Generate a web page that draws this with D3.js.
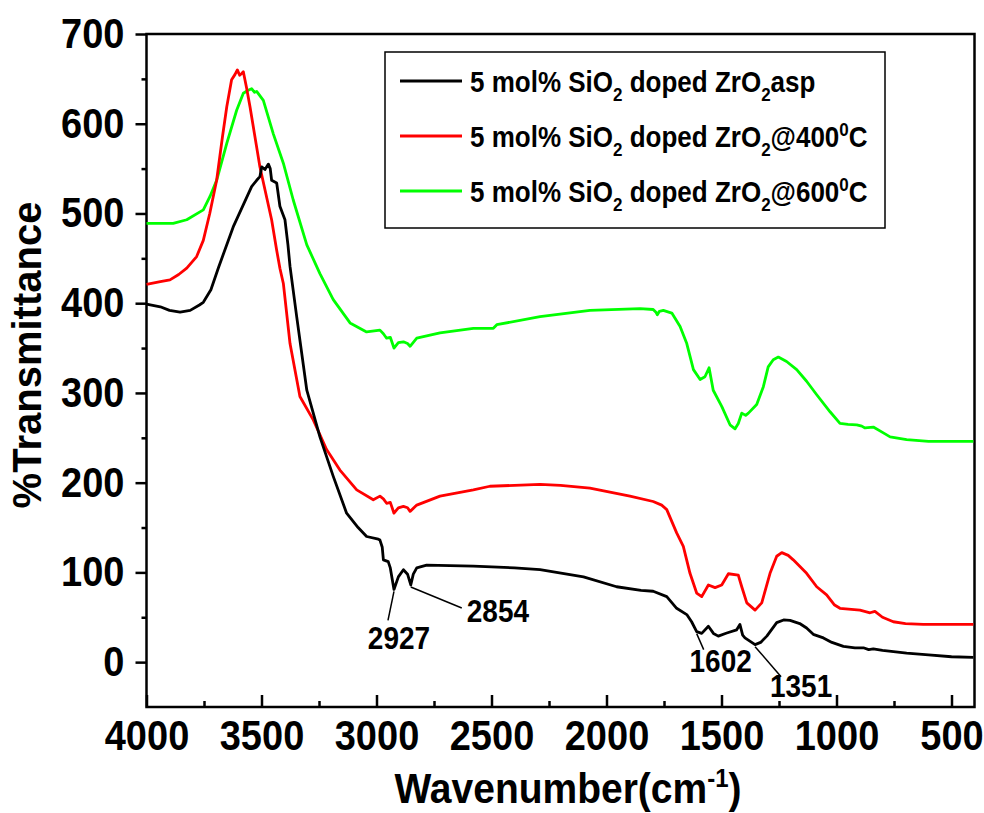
<!DOCTYPE html>
<html>
<head>
<meta charset="utf-8">
<script src="https://cdn.jsdelivr.net/npm/d3@7"></script>
<style>
  html, body { margin: 0; padding: 0; background: #fff; }
  svg text { font-family: "Liberation Sans", Arial, Helvetica, sans-serif; font-weight: bold; fill: #000; }
</style>
</head>
<body>
<svg id="chart" width="984" height="813"></svg>
<script>
// FT-IR spectra of 5 mol% SiO2 doped ZrO2 (as prepared, 400 °C, 600 °C)
const aspWavenumber = [4000, 3940, 3900, 3854, 3810, 3770, 3753, 3720, 3688, 3623, 3543, 3521, 3507, 3499, 3485, 3470, 3462, 3456, 3434, 3420, 3398, 3385, 3376, 3347, 3303, 3246, 3188, 3130, 3080, 3043, 2992, 2985, 2975, 2970, 2949, 2940, 2924, 2905, 2883, 2865, 2851, 2840, 2825, 2782, 2579, 2400, 2289, 2100, 1956, 1850, 1797, 1738, 1695, 1651, 1630, 1608, 1586, 1557, 1535, 1514, 1477, 1434, 1420, 1408, 1398, 1354, 1330, 1303, 1260, 1230, 1202, 1160, 1130, 1101, 1057, 1020, 970, 920, 883, 860, 840, 800, 695, 600, 500, 405];
const aspValues = [399, 396, 392, 390, 392, 398, 401, 415, 439, 485, 530, 537, 541, 552, 549, 555, 550, 537, 534, 508, 493, 465, 441, 385, 303, 251, 207, 166, 150, 140, 137, 136, 128, 114, 112, 105, 81, 95, 103, 98, 86, 98, 105, 108, 107, 105, 103, 95, 84, 80, 79, 73, 60, 53, 45, 34, 32, 40, 32, 29, 32.5, 36, 42, 30, 27, 19.5, 22, 29, 44, 47, 46.5, 43, 38, 31, 27, 22, 17.6, 16, 16, 14, 14.7, 13, 10, 8, 6, 5.3];

const t400Wavenumber = [4000, 3940, 3898, 3860, 3825, 3782, 3753, 3725, 3695, 3670, 3651, 3630, 3615, 3605, 3595, 3586, 3579, 3565, 3550, 3507, 3456, 3434, 3420, 3405, 3376, 3333, 3275, 3217, 3159, 3086, 3014, 2985, 2970, 2956, 2940, 2924, 2905, 2883, 2865, 2854, 2825, 2724, 2579, 2507, 2400, 2289, 2200, 2072, 1898, 1797, 1760, 1738, 1695, 1666, 1637, 1608, 1586, 1557, 1528, 1499, 1470, 1427, 1412, 1390, 1354, 1325, 1289, 1260, 1238, 1210, 1188, 1130, 1086, 1043, 1010, 985, 898, 854, 833, 800, 753, 700, 623, 405];
const t400Values = [421, 424, 426, 432, 439, 452, 470, 500, 537, 585, 619, 649, 655, 660, 654, 656, 658, 640, 619, 552, 493, 459, 439, 422, 355, 296, 270, 237, 214, 192, 181, 185, 182, 177, 178, 166, 172, 173.5, 172, 168, 175, 185, 192, 196, 197, 198, 197, 194, 185, 179, 175, 170, 144, 129, 99, 77, 73, 86, 83, 86, 98.5, 97, 84, 66, 58, 66, 99, 118, 122, 119, 114, 99, 84, 75, 64, 60, 58, 55, 56.6, 50, 45, 43, 42, 42];

const t600Wavenumber = [4000, 3884, 3825, 3753, 3724, 3695, 3651, 3608, 3579, 3560, 3543, 3530, 3521, 3492, 3449, 3405, 3362, 3303, 3246, 3188, 3115, 3043, 2985, 2970, 2956, 2940, 2924, 2905, 2883, 2865, 2854, 2825, 2724, 2579, 2492, 2477, 2289, 2072, 1854, 1797, 1785, 1779, 1770, 1753, 1716, 1680, 1651, 1622, 1593, 1572, 1554, 1536, 1499, 1463, 1441, 1427, 1412, 1395, 1383, 1347, 1318, 1297, 1275, 1253, 1217, 1173, 1130, 1086, 1028, 985, 950, 912, 890, 876, 840, 800, 767, 695, 600, 405];
const t600Values = [489, 489, 493, 504, 519, 537, 578, 615, 634, 637, 639, 635, 636, 626, 589, 556, 515, 465, 433, 404, 378, 368, 370, 366, 361, 362, 350, 356, 357, 355, 352, 361, 367, 372, 372, 376, 385, 392, 394, 393, 390, 387, 391, 392, 389, 374, 355, 326, 315, 318, 328, 303, 285, 264.5, 260, 266, 277.5, 275, 277.5, 287, 307, 329, 337, 340, 335, 326, 313, 298, 279, 266, 265, 264.5, 263, 261, 262, 256, 251, 248, 246, 246];

const seriesColors = ["#000000", "#ff0000", "#00ff00"];
const xMajorTicks = [4000, 3500, 3000, 2500, 2000, 1500, 1000, 500];
const xMinorTicks = [3750, 3250, 2750, 2250, 1750, 1250, 750];
const yMajorTicks = [0, 100, 200, 300, 400, 500, 600, 700];
const yMinorTicks = [50, 150, 250, 350, 450, 550, 650];

// Peak labels on the as-prepared curve
const peakLabels = ["2927", "2854", "1602", "1351"];
const peakWavenumbers = [2924, 2851, 1608, 1354];
const peakValues = [81, 86, 34, 19.5];

const svg = d3.select("#chart");
const plotLeft = 146.5, plotRight = 974.5, plotTop = 34, plotBottom = 707;
const stretch = 1.1; // tall, narrow lettering

const x = d3.scaleLinear().domain([4000, 400]).range([plotLeft, plotRight]);
const y = d3.scaleLinear().domain([-50, 700]).range([plotBottom, plotTop]);

// Axes
function styleAxis(g) {
  g.select(".domain").remove();
  g.selectAll(".tick line").attr("stroke", "#000").attr("stroke-width", 2.5);
  g.selectAll(".tick text")
    .style("font-size", "38px").attr("fill", "#000")
    .attr("transform", `scale(1,${stretch})`);
}

svg.append("g")
  .attr("transform", `translate(0,${plotBottom})`)
  .call(d3.axisBottom(x).tickValues(xMajorTicks).tickSize(-12).tickPadding(12).tickFormat(d3.format("d")))
  .call(styleAxis);

svg.append("g")
  .attr("transform", `translate(0,${plotBottom})`)
  .call(d3.axisBottom(x).tickValues(xMinorTicks).tickSize(-6).tickFormat(""))
  .call(styleAxis);

svg.append("g")
  .attr("transform", `translate(${plotLeft},0)`)
  .call(d3.axisLeft(y).tickValues(yMajorTicks).tickSize(11).tickPadding(11).tickFormat(d3.format("d")))
  .call(styleAxis);

svg.append("g")
  .attr("transform", `translate(${plotLeft},0)`)
  .call(d3.axisLeft(y).tickValues(yMinorTicks).tickSize(5).tickFormat(""))
  .call(styleAxis);

// Plot frame
svg.append("rect")
  .attr("x", plotLeft).attr("y", plotTop)
  .attr("width", plotRight - plotLeft).attr("height", plotBottom - plotTop)
  .attr("fill", "none").attr("stroke", "#000").attr("stroke-width", 2.5);

// Spectra
const line = d3.line().x(d => x(d[0])).y(d => y(d[1]));
const series = [
  d3.zip(aspWavenumber, aspValues),
  d3.zip(t400Wavenumber, t400Values),
  d3.zip(t600Wavenumber, t600Values)
];
// green first, black on top
[2, 1, 0].forEach(i => {
  svg.append("path")
    .datum(series[i])
    .attr("d", line)
    .attr("fill", "none")
    .attr("stroke", seriesColors[i])
    .attr("stroke-width", 2.8)
    .attr("stroke-linejoin", "round");
});

// Peak annotations with leader lines: [leader dx, leader dy, text dx, text dy]
const labelOffsets = [[-6, 31, 5, 60], [51, 23, 56, 37], [7, 18, 24, 40], [26, 32, 46, 52]];
peakLabels.forEach((lab, i) => {
  const px = x(peakWavenumbers[i]), py = y(peakValues[i]);
  const o = labelOffsets[i];
  svg.append("line")
    .attr("x1", px).attr("y1", py + 2)
    .attr("x2", px + o[0]).attr("y2", py + o[1])
    .attr("stroke", "#000").attr("stroke-width", 1.5);
  svg.append("g")
    .attr("transform", `translate(${px + o[2]},${py + o[3]}) scale(1,${stretch})`)
    .append("text")
    .attr("text-anchor", i === 1 ? "start" : "middle")
    .style("font-size", "28px")
    .text(lab);
});

// Axis titles
svg.append("g")
  .attr("transform", `translate(568,803) scale(1,${stretch})`)
  .append("text")
  .attr("text-anchor", "middle")
  .style("font-size", "39px")
  .call(t => {
    t.append("tspan").text("Wavenumber(cm");
    t.append("tspan").attr("dy", -15).style("font-size", "24px").text("-1");
    t.append("tspan").attr("dy", 15).text(")");
  });

svg.append("text")
  .attr("transform", "translate(41,355) rotate(-90)")
  .attr("text-anchor", "middle")
  .style("font-size", "40px")
  .text("%Transmittance");

// Legend
const legendNames = [
  [["5 mol% SiO", 0], ["2", 1], [" doped ZrO", 0], ["2", 1], ["asp", 0]],
  [["5 mol% SiO", 0], ["2", 1], [" doped ZrO", 0], ["2", 1], ["@400", 0], ["0", 2], ["C", 0]],
  [["5 mol% SiO", 0], ["2", 1], [" doped ZrO", 0], ["2", 1], ["@600", 0], ["0", 2], ["C", 0]]
];
const legend = svg.append("g");
legend.append("rect")
  .attr("x", 385).attr("y", 52).attr("width", 500).attr("height", 176)
  .attr("fill", "#fff").attr("stroke", "#000").attr("stroke-width", 1.5);
legendNames.forEach((parts, i) => {
  const ly = 81 + i * 55;
  legend.append("line")
    .attr("x1", 400).attr("x2", 462).attr("y1", ly).attr("y2", ly)
    .attr("stroke", seriesColors[i]).attr("stroke-width", 3);
  const t = legend.append("g")
    .attr("transform", `translate(470,${ly + 11}) scale(1,${stretch})`)
    .append("text").style("font-size", "26px");
  let shift = 0;
  parts.forEach(([s, kind]) => {
    const target = kind === 1 ? 8 : kind === 2 ? -10 : 0;
    t.append("tspan")
      .attr("dy", target - shift)
      .style("font-size", kind ? "17px" : "26px")
      .text(s);
    shift = target;
  });
});
</script>
</body>
</html>
